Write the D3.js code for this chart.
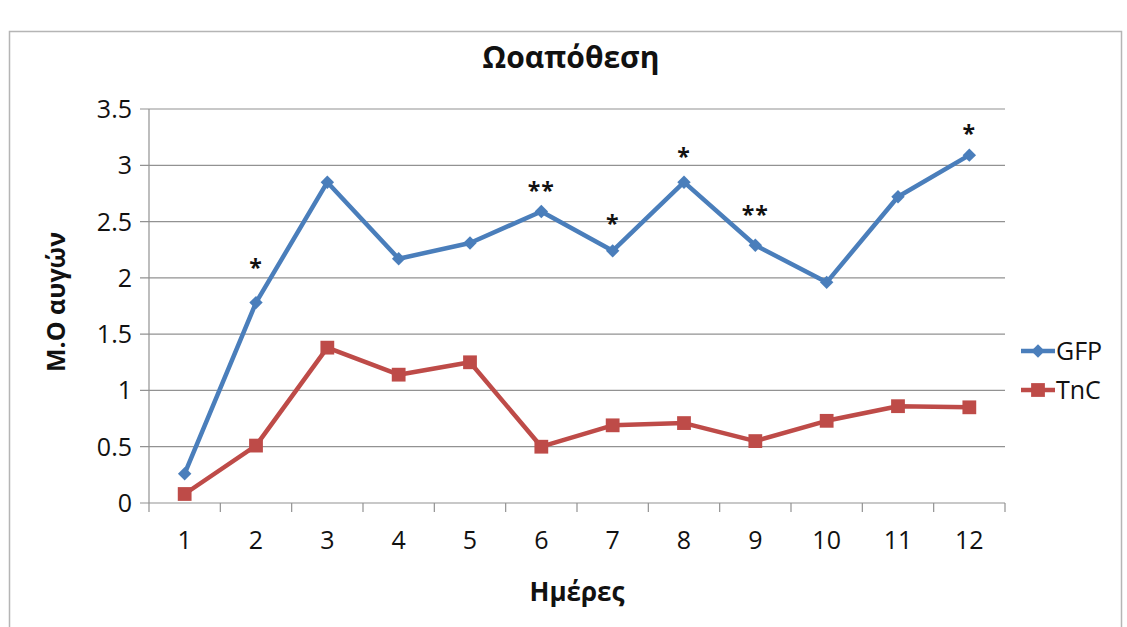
<!DOCTYPE html>
<html>
<head>
<meta charset="utf-8">
<script src="https://cdn.jsdelivr.net/npm/d3@7"></script>
<style>
    body { margin: 0; background: #fff; }
    text { font-family: "Open Sans", "Liberation Sans", sans-serif; fill: #111; }
</style>
</head>
<body>
<div id="chart"></div>
<script>
// Chart data
const days = ["1", "2", "3", "4", "5", "6", "7", "8", "9", "10", "11", "12"];
const gfpValues = [0.26, 1.78, 2.85, 2.17, 2.31, 2.59, 2.24, 2.85, 2.29, 1.96, 2.72, 3.09];
const tncValues = [0.08, 0.51, 1.38, 1.14, 1.25, 0.50, 0.69, 0.71, 0.55, 0.73, 0.86, 0.85];
const yTicks = [0, 0.5, 1, 1.5, 2, 2.5, 3, 3.5];

// significance markers: day, label, level (data units)
const markDays = ["2", "6", "7", "8", "9", "12"];
const markLabels = ["*", "**", "*", "*", "**", "*"];
const markLevels = [2.17, 2.85, 2.56, 3.16, 2.64, 3.36];

const series = [
    { name: "GFP", values: gfpValues, color: "#4A7EBB", size: 90, rot: 45 },
    { name: "TnC", values: tncValues, color: "#BE4B48", size: 190, rot: 0 }
];

const W = 1127, H = 627;
const margin = { top: 109, right: 122, bottom: 124, left: 149 };
const width = W - margin.left - margin.right;
const height = H - margin.top - margin.bottom;

const svg = d3.select("#chart").append("svg")
    .attr("width", W)
    .attr("height", H);

// outer frame
svg.append("rect")
    .attr("x", 9.5).attr("y", 31.5)
    .attr("width", 1112).attr("height", 600)
    .attr("fill", "none")
    .attr("stroke", "#b5b5b5")
    .attr("stroke-width", 1.5);

const g = svg.append("g")
    .attr("transform", `translate(${margin.left},${margin.top})`);

const x = d3.scaleBand().domain(days).range([0, width]);
const y = d3.scaleLinear().domain([0, 3.5]).range([height, 0]);

// gridlines
g.selectAll(".grid")
    .data(yTicks)
    .enter()
    .append("line")
    .attr("x1", -9).attr("x2", width)
    .attr("y1", d => y(d)).attr("y2", d => y(d))
    .attr("stroke", "#929292")
    .attr("stroke-width", 1.2);

// y axis line
g.append("line")
    .attr("x1", 0).attr("x2", 0)
    .attr("y1", 0).attr("y2", height)
    .attr("stroke", "#929292").attr("stroke-width", 1.2);

// y tick labels
g.selectAll(".ylab")
    .data(yTicks)
    .enter()
    .append("text")
    .attr("x", -17)
    .attr("y", d => y(d))
    .attr("dy", "0.36em")
    .attr("text-anchor", "end")
    .style("font-size", "25px")
    .text(d => d);

// x tick marks at category edges
const edges = days.map(d => x(d)).concat([width]);
g.selectAll(".xtick")
    .data(edges)
    .enter()
    .append("line")
    .attr("x1", d => d).attr("x2", d => d)
    .attr("y1", height).attr("y2", height + 9)
    .attr("stroke", "#929292").attr("stroke-width", 1.2);

// x labels
g.selectAll(".xlab")
    .data(days)
    .enter()
    .append("text")
    .attr("x", d => x(d) + x.bandwidth() / 2)
    .attr("y", height + 46)
    .attr("text-anchor", "middle")
    .style("font-size", "25px")
    .text(d => d);

// lines and markers
const line = d3.line()
    .x((d, i) => x(days[i]) + x.bandwidth() / 2)
    .y(d => y(d));

series.forEach(s => {
    g.append("path")
        .datum(s.values)
        .attr("d", line)
        .attr("fill", "none")
        .attr("stroke", s.color)
        .attr("stroke-width", 4.5)
        .attr("stroke-linejoin", "round");

    g.selectAll(null)
        .data(s.values)
        .enter()
        .append("path")
        .attr("transform", (d, i) => `translate(${x(days[i]) + x.bandwidth() / 2},${y(d)}) rotate(${s.rot})`)
        .attr("d", d3.symbol().type(d3.symbolSquare).size(s.size))
        .attr("fill", s.color);
});

// asterisks
g.selectAll(".mark")
    .data(markDays)
    .enter()
    .append("text")
    .attr("x", d => x(d) + x.bandwidth() / 2)
    .attr("y", (d, i) => y(markLevels[i]))
    .attr("dy", "0.75em")
    .attr("text-anchor", "middle")
    .style("font-size", "23px")
    .style("font-weight", "bold")
    .style("letter-spacing", "1px")
    .text((d, i) => markLabels[i]);

// title
svg.append("text")
    .attr("x", 571).attr("y", 68)
    .attr("text-anchor", "middle")
    .style("font-size", "30px")
    .style("font-weight", "bold")
    .text("Ωοαπόθεση");

// axis titles
svg.append("text")
    .attr("transform", "translate(65,302) rotate(-90)")
    .attr("text-anchor", "middle")
    .style("font-size", "25px")
    .style("font-weight", "bold")
    .text("M.O  αυγών");

svg.append("text")
    .attr("x", 577).attr("y", 601)
    .attr("text-anchor", "middle")
    .style("font-size", "26px")
    .style("font-weight", "bold")
    .text("Ημέρες");

// legend
const legend = svg.append("g").attr("transform", "translate(1021,351)");
series.forEach((s, i) => {
    const row = legend.append("g").attr("transform", `translate(0,${i * 39})`);
    row.append("line")
        .attr("x1", 0).attr("x2", 34)
        .attr("stroke", s.color).attr("stroke-width", 4.5);
    row.append("path")
        .attr("transform", `translate(17,0) rotate(${s.rot})`)
        .attr("d", d3.symbol().type(d3.symbolSquare).size(s.size))
        .attr("fill", s.color);
    row.append("text")
        .attr("x", 35).attr("dy", "0.36em")
        .style("font-size", "25px")
        .text(s.name);
});
</script>
</body>
</html>
